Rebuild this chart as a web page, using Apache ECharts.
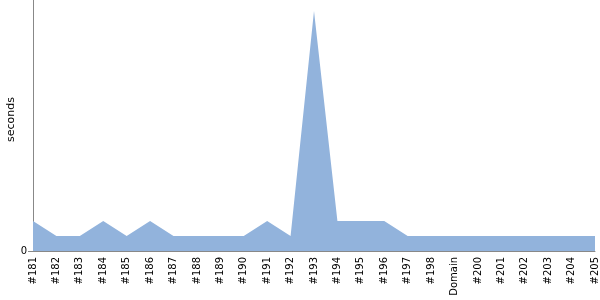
<!DOCTYPE html>
<html><head><meta charset="utf-8">
<script src="https://cdn.jsdelivr.net/npm/echarts@6/dist/echarts.min.js"></script>
<style>html,body{margin:0;padding:0;background:#fff}#c{width:600px;height:300px}</style>
</head><body><div id="c"></div>
<script>
const categories = ['#181','#182','#183','#184','#185','#186','#187','#188','#189','#190','#191','#192','#193','#194','#195','#196','#197','#198','Domain','#200','#201','#202','#203','#204','#205'];
const seconds = [2,1,1,2,1,2,1,1,1,1,2,1,16,2,2,2,1,1,1,1,1,1,1,1,1];
const yTickValues = [0];

const chart = echarts.init(document.getElementById('c'), null, {renderer:'canvas'});
chart.setOption({
  animation:false,
  grid:{left:33,right:5,top:0,bottom:49,containLabel:false,outerBoundsMode:'none'},
  xAxis:{
    type:'category', data:categories, boundaryGap:false,
    axisLine:{lineStyle:{color:'#888',width:1}},
    axisTick:{show:false},
    axisLabel:{rotate:90,color:'#000',fontSize:10,fontFamily:'DejaVu Sans',margin:6,interval:0},
    splitLine:{show:false}
  },
  yAxis:{
    type:'value', min:0, max:16.73,
    name:'seconds', nameLocation:'middle', nameGap:16, nameRotate:90, nameMoveOverlap:false,
    nameTextStyle:{color:'#000',fontSize:11,fontFamily:'DejaVu Sans',padding:[0,0,0,12]},
    axisLine:{show:true,lineStyle:{color:'#888',width:1}},
    axisTick:{show:true,length:5,customValues:yTickValues,lineStyle:{color:'#888'}},
    axisLabel:{color:'#000',fontSize:10,fontFamily:'DejaVu Sans',margin:6,customValues:yTickValues},
    splitLine:{show:false}
  },
  series:[{
    type:'line', data:seconds, symbol:'none',
    lineStyle:{width:0,color:'#92b3dc'},
    areaStyle:{color:'#92b3dc',opacity:1}
  }]
});
</script></body></html>
